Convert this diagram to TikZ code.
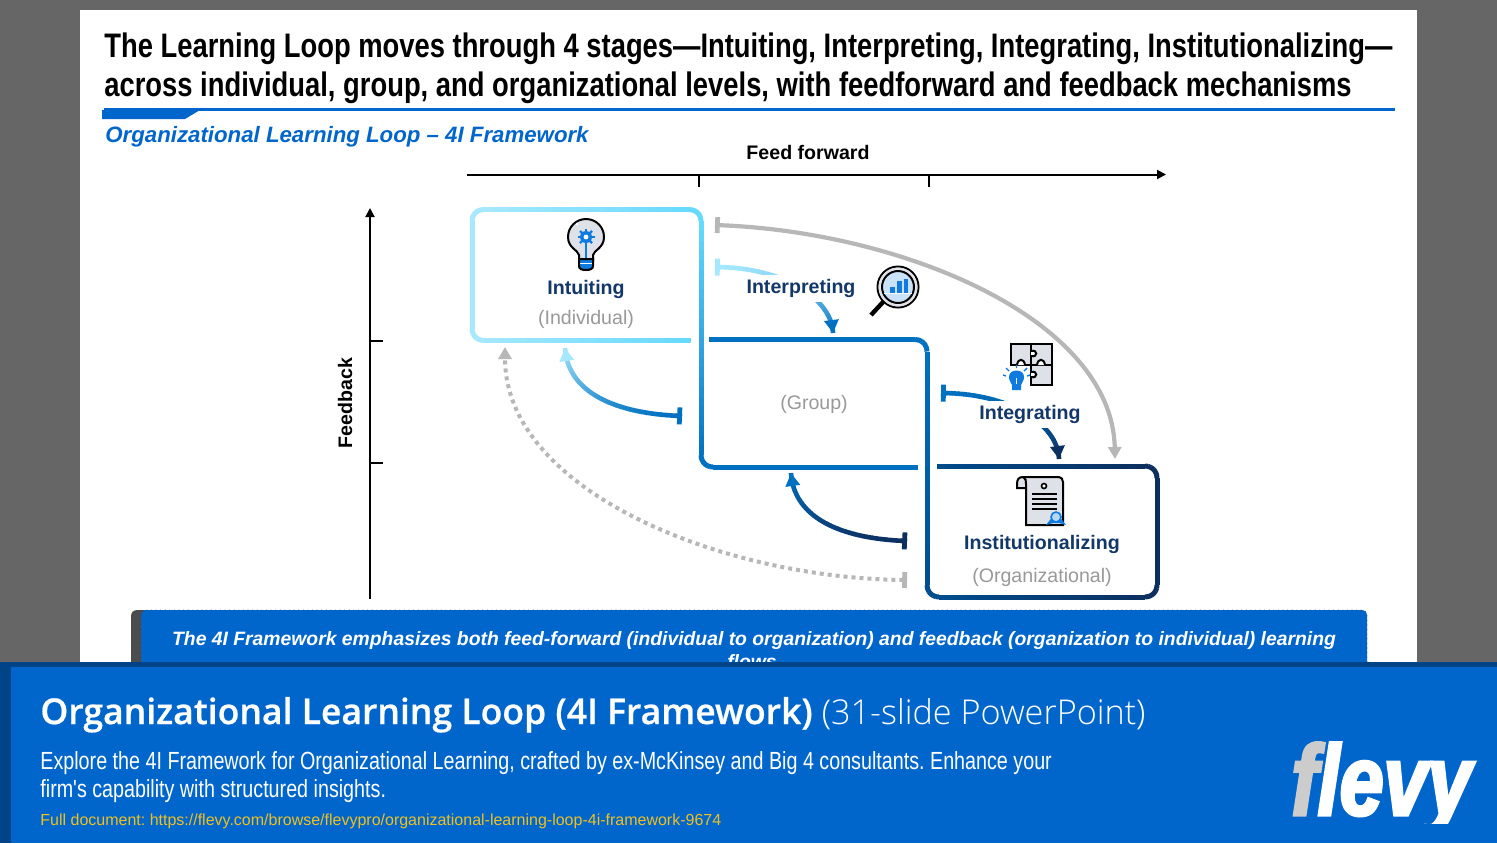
\documentclass[tikz,border=0pt]{standalone}
\usepackage{fontspec}
\usetikzlibrary{arrows.meta,calc}
\setmainfont{Liberation Sans}
\newfontfamily\titlefont[FakeStretch=0.805]{Liberation Sans Bold}
\newfontfamily\descfont[FakeStretch=0.795]{Liberation Sans}
\newfontfamily\headfont[FakeBold=0.6]{Open Sans Semibold}
\newfontfamily\lightfont{Open Sans Light}
\newfontfamily\logofont[FakeStretch=0.79,FakeBold=3]{Liberation Sans Bold Italic}
\frenchspacing
\definecolor{pagegrey}{HTML}{666666}
\definecolor{flevyblue}{HTML}{0066CC}
\definecolor{banddark}{HTML}{004488}
\definecolor{paleA}{HTML}{A5E8FF}
\definecolor{paleB}{HTML}{66D9FF}
\definecolor{midblue}{HTML}{0070C0}
\definecolor{deepblue}{HTML}{004C8C}
\definecolor{navy}{HTML}{0C2F60}
\definecolor{labelnavy}{HTML}{123768}
\definecolor{softgrey}{HTML}{999999}
\definecolor{linkgrey}{HTML}{B7B7B7}
\definecolor{iconfill}{HTML}{DFE1E9}
\definecolor{iconblue}{HTML}{0F7BE0}
\definecolor{linkyellow}{HTML}{F0C020}
\newcommand\fpx[1]{\fontsize{#1}{#1}\selectfont}
\newcommand\gline[4]{%
  \foreach \i in {1,...,24}{%
    \pgfmathsetmacro\ta{(\i-1)/24}\pgfmathsetmacro\tb{min(1,\i/24+0.006)}\pgfmathsetmacro\mx{100*\ta}%
    \path (#1) -- (#2) coordinate[pos=\ta] (u) coordinate[pos=\tb] (v);
    \draw[boxline,color={#4!\mx!#3}] (u) -- (v);
  }}
\newcommand\gcorner[6]{%
  \foreach \i in {1,...,6}{%
    \pgfmathsetmacro\ta{(\i-1)/6}\pgfmathsetmacro\tb{min(1,\i/6+0.02)}\pgfmathsetmacro\mx{100*\ta}%
    \path (#1) .. controls (#2) and (#3) .. (#4) coordinate[pos=\ta] (u) coordinate[pos=\tb] (v);
    \draw[boxline,color={#6!\mx!#5}] (u) -- (v);
  }}
\newcommand\gconn[6]{%
  \foreach \i in {1,...,36}{%
    \pgfmathsetmacro\ta{(\i-1)/36}\pgfmathsetmacro\tb{min(1,\i/36+0.004)}\pgfmathsetmacro\mx{100*\ta^1.6}%
    \path (#1) .. controls (#2) and (#3) .. (#4) coordinate[pos=\ta] (u) coordinate[pos=\tb] (v);
    \draw[gradlink,color={#6!\mx!#5}] (u) -- (v);
  }
  \path (#1) .. controls (#2) and (#3) .. (#4) coordinate[pos=0.03] (u) coordinate[pos=0.93] (v);
  \draw[gradlink,color=#5,{Bar[width=8.5pt,line width=2.4pt]}-] (#1) -- (u);
  \draw[gradlink,color=#6,-{Triangle[length=6.5pt,width=7pt]}] (v) -- (#4);
}
\tikzset{
  boxline/.style={line width=2.5pt},
  gradlink/.style={line width=2.3pt},
  greylink/.style={linkgrey,line width=2.1pt,{Bar[width=8pt,line width=2.4pt]}-{Triangle[length=6pt,width=6.5pt]}},
  greydots/.style={linkgrey,line width=2pt,dash pattern=on 2pt off 2pt,{Bar[width=8pt,line width=2.4pt]}-{Triangle[length=6pt,width=6.5pt]}},
  axisline/.style={black,line width=1pt},
  stagetitle/.style={font=\bfseries\fpx{9.8},text=labelnavy,inner sep=0pt},
  stagelevel/.style={font=\fpx{9.8},text=softgrey,inner sep=0pt},
  masklabel/.style={stagetitle,fill=white,minimum height=13.5pt},
  iconline/.style={draw=black,line width=1pt,fill=iconfill},
  textline/.style={anchor=base west,inner sep=0pt}
}
\begin{document}
\begin{tikzpicture}[x=.5pt,y=-.5pt]
\useasboundingbox (0,0) rectangle (1497,843);
% page
\fill[pagegrey] (0,0) rectangle (1497,843);
\fill[white] (80,10) rectangle (1417,662);
% title
\node[textline,font=\titlefont\fpx{17}] (title1) at (104,57) {The Learning Loop moves through 4 stages—Intuiting, Interpreting, Integrating, Institutionalizing—};
\node[textline,font=\titlefont\fpx{17}] (title2) at (104,96) {across individual, group, and organizational levels, with feedforward and feedback mechanisms};
\fill[flevyblue] (104,108) rectangle (1395,110.5);
\fill[flevyblue] (102,110) -- (200,110) -- (185,119) -- (102,119) -- cycle;
\node[textline,font=\bfseries\itshape\fpx{11.12},text=flevyblue] (subtitle) at (105,142) {Organizational Learning Loop – 4I Framework};
% axes
\node[inner sep=0pt,font=\bfseries\fpx{9.8}] (ffwd) at (808,152) {Feed forward};
\coordinate (ffA) at (467,174.5);
\coordinate (ffB) at (1166,174.5);
\draw[axisline,-{Triangle[length=4.5pt,width=4.5pt]}] (ffA) -- (ffB);
\draw[axisline] (699,174.5) -- (699,187);
\draw[axisline] (929,174.5) -- (929,187);
\node[inner sep=0pt,font=\bfseries\fpx{9.8},rotate=90] (fback) at (345,403) {Feedback};
\coordinate (fbA) at (370,599);
\coordinate (fbB) at (370,208);
\draw[axisline,-{Triangle[length=4.5pt,width=4.5pt]}] (fbA) -- (fbB);
\draw[axisline] (370,341) -- (383,341);
\draw[axisline] (370,463) -- (383,463);
% first staircase outline
\gline{691,340.5}{484,340.5}{paleB}{paleA}
\gcorner{484,340.5}{477,340.5}{472,335.5}{472,328.5}{paleA}{paleA}
\gline{472,328.5}{472,221}{paleA}{paleA}
\gcorner{472,221}{472,214}{477,209.5}{484,209.5}{paleA}{paleA}
\gline{484,209.5}{689,209.5}{paleA}{paleB}
\gcorner{689,209.5}{696,209.5}{701,214}{701,221}{paleB}{paleB}
\gline{701,221}{701,455}{paleB}{midblue}
\gcorner{701,455}{701,462}{706,467}{713,467}{midblue}{midblue}
\gline{713,467}{918,467}{midblue}{midblue}
% second staircase outline
\gline{709,339.5}{915,339.5}{midblue}{midblue}
\gcorner{915,339.5}{922,339.5}{927,344.5}{927,351.5}{midblue}{midblue}
\gline{927,351.5}{927,585}{midblue}{deepblue}
\gcorner{927,585}{927,592}{932,597}{939,597}{deepblue}{deepblue}
\gline{939,597}{1145,597}{deepblue}{navy}
\gcorner{1145,597}{1152,597}{1157,592}{1157,585}{navy}{navy}
\gline{1157,585}{1157,478}{navy}{navy}
\gcorner{1157,478}{1157,471}{1152,466}{1145,466}{navy}{navy}
\gline{1145,466}{937,466}{navy}{deepblue}
% connectors
\coordinate (grayS) at (715,225);
\coordinate (grayE) at (1115,459);
\draw[greylink] (grayS) .. controls (905,232) and (1112,320) .. (grayE);
\coordinate (dotS) at (907,580);
\coordinate (dotE) at (505,347);
\draw[greydots] (dotS) .. controls (720,578) and (505,490) .. (dotE);
\coordinate (ret1S) at (682,416);
\coordinate (ret1E) at (565,348);
\gconn{ret1S}{620,414}{568,395}{ret1E}{midblue}{paleA}
\coordinate (ret2S) at (907,541);
\coordinate (ret2E) at (791,473);
\gconn{ret2S}{845,539}{794,520}{ret2E}{navy}{midblue}
\coordinate (intS) at (715,267);
\coordinate (intE) at (833,333);
\gconn{intS}{785,267}{832,300}{intE}{paleA}{midblue}
\coordinate (igrS) at (941,393);
\coordinate (igrE) at (1059,459);
\gconn{igrS}{1011,393}{1058,425}{igrE}{midblue}{navy}
% labels
\node[stagetitle] (intuiting) at (586,289) {Intuiting};
\node[stagelevel] (individual) at (586,319) {(Individual)};
\node[masklabel,minimum width=57pt] (interpreting) at (801,288) {Interpreting};
\node[stagelevel] (group) at (814,404) {(Group)};
\node[masklabel,minimum width=52pt] (integrating) at (1030,414.5) {Integrating};
\node[stagetitle] (institutionalizing) at (1042,544) {Institutionalizing};
\node[stagelevel] (organizational) at (1042,577) {(Organizational)};
% bulb icon
\draw[iconline] (579,260) -- (579,255) .. controls (578,250) and (568,248) .. (568,237) .. controls (568,227) and (576,219) .. (586,219) .. controls (596,219) and (604,227) .. (604,237) .. controls (604,248) and (594,250) .. (593,255) -- (593,260) -- cycle;
\fill[white] (577,224) circle[radius=1.5];
\fill[iconblue] (586,237) circle[radius=6];
\foreach \ga in {0,45,...,315}{\draw[iconblue,line width=1.1pt] (586,237) -- ++(\ga:8.5);}
\fill[white] (586,237) circle[radius=2.4];
\draw[iconblue,line width=1.3pt] (586,243) -- (586,259);
\filldraw[fill=iconblue,draw=black,line width=1pt] (579,259) -- (593,259) -- (593,266) .. controls (593,269) and (590,270) .. (586,270) .. controls (582,270) and (579,269) .. (579,266) -- cycle;
\fill[white] (580,262.5) rectangle (592,264);
% magnifier icon
\draw[black,line width=2.2pt] (884,301) -- (871,315);
\draw[black,line width=1pt,fill=white] (898,287) circle[radius=20.5];
\draw[iconfill,line width=1pt] (898,287) circle[radius=18.5];
\draw[black,line width=1pt,fill=iconblue!22] (898,287) circle[radius=16];
\fill[white] (884,292.5) rectangle (912,294);
\fill[iconblue] (890,287) rectangle (894.5,292.5);
\fill[iconblue] (897,281) rectangle (901.5,292.5);
\fill[iconblue] (903.5,279) rectangle (908,292.5);
% puzzle icon
\draw[iconline] (1011,344) rectangle (1031,365);
\draw[iconline] (1031,344) rectangle (1052,365);
\draw[iconline] (1031,365) rectangle (1052,385);
\draw[black,line width=1pt,fill=white] (1031,351) .. controls (1038,349) and (1038,358) .. (1031,356);
\draw[black,line width=1pt,fill=white] (1017,365) .. controls (1018,358) and (1024,358) .. (1025,365);
\draw[black,line width=1pt,fill=white] (1037,365) .. controls (1038,358) and (1044,358) .. (1045,365);
\draw[black,line width=1pt,fill=white] (1031,372) .. controls (1038,370) and (1038,379) .. (1031,377);
\fill[white] (1009.5,367) rectangle (1030,392);
\fill[iconblue] (1012,390) -- (1012,385) .. controls (1011,382) and (1009,381) .. (1009,377) .. controls (1009,373) and (1012,370.5) .. (1016.5,370.5) .. controls (1021,370.5) and (1024,373) .. (1024,377) .. controls (1024,381) and (1022,382) .. (1021,385) -- (1021,390) -- cycle;
\draw[iconblue,line width=.7pt] (1016.5,368) -- (1016.5,365) (1009,371) -- (1006,368) (1024,371) -- (1027,368) (1006,376) -- (1003,375) (1027,376) -- (1030,375);
\draw[white,line width=.6pt] (1016.5,384) -- (1016.5,378);
% scroll icon
\draw[iconline] (1026,484) -- (1026,525) -- (1063,525) -- (1063,482) .. controls (1063,479) and (1061,477) .. (1059,477) -- (1023,477) .. controls (1019,477) and (1017,479) .. (1017,484) -- (1017,488) -- (1026,488);
\draw[iconline] (1023,477) .. controls (1026,478) and (1026,481) .. (1026,484);
\draw[black,line width=.8pt,fill=white] (1044,486) circle[radius=2.5];
\foreach \ly in {494,499,504,509}{\draw[black,line width=.9pt] (1032,\ly) -- (1057,\ly);}
\fill[iconblue] (1046,525) -- (1053,516) -- (1059,516) -- (1066,525) -- (1059,523) -- (1053,523) -- cycle;
\draw[iconblue,line width=.8pt,fill=iconblue!30] (1056,517) circle[radius=5];
% callout
\fill[black!70] (131,662) -- (131,617) .. controls (131,612) and (133,610) .. (138,610) -- (150,610) -- (150,662) -- cycle;
\filldraw[fill=flevyblue,draw=black!80,line width=.3pt,dotted] (141,662) -- (141,616) .. controls (141,612) and (143,610) .. (147,610) -- (1361,610) .. controls (1365,610) and (1367,612) .. (1367,616) -- (1367,662);
\node[inner sep=0pt,text=white,font=\bfseries\itshape\fpx{9.67}] (call1) at (754,640) {The 4I Framework emphasizes both feed-forward (individual to organization) and feedback (organization to individual) learning};
\node[inner sep=0pt,text=white,font=\bfseries\itshape\fpx{9.67}] (call2) at (752,662) {flows};
% footer
\fill[flevyblue] (0,662) rectangle (1497,843);
\fill[banddark] (0,662) rectangle (1497,667);
\fill[banddark] (0,662) rectangle (11,843);
\node[textline,text=white] (foothead) at (40,724) {\headfont\fpx{17.77}Organizational Learning Loop (4I Framework) \lightfont\fpx{17.1}(31-slide PowerPoint)};
\node[textline,text=white,font=\descfont\fpx{12.4}] (desc1) at (40,769) {Explore the 4I Framework for Organizational Learning, crafted by ex-McKinsey and Big 4 consultants. Enhance your};
\node[textline,text=white,font=\descfont\fpx{12.4}] (desc2) at (40,797) {firm's capability with structured insights.};
\node[textline,text=linkyellow,font=\fpx{8}] (url) at (40,825) {Full document: https://flevy.com/browse/flevypro/organizational-learning-loop-4i-framework-9674};
\begin{scope}
\clip (1280,735) rectangle (1490,823);
\node[textline,text=white,font=\logofont\fpx{50}] (logo) at (1291,815) {\textcolor[HTML]{CCCCCC}{f}levy};
\end{scope}
\end{tikzpicture}
\end{document}
